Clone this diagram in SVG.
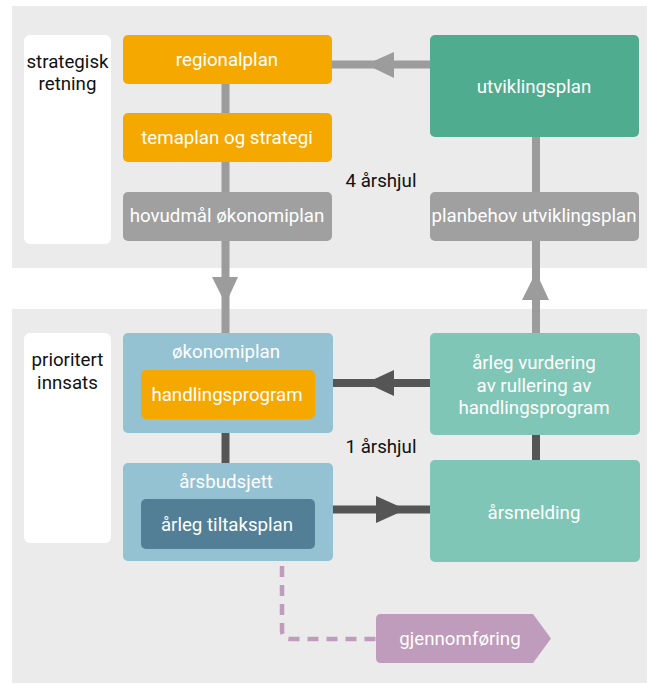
<svg xmlns="http://www.w3.org/2000/svg" width="651" height="685" viewBox="0 0 651 685">
<defs>
<style>
text{font-family:Roboto,"Liberation Sans",sans-serif;font-size:18.7px;text-anchor:middle}
.w{fill:#ffffff}
.k{fill:#111111}
.bg{fill:#ebebeb}
</style>
</defs>
<rect class="bg" x="12" y="6" width="635" height="262"/>
<rect class="bg" x="12" y="309" width="635" height="374"/>
<g id="connectors">
<line x1="225.5" y1="84" x2="225.5" y2="333" stroke="#9c9c9c" stroke-width="8"/>
<polygon points="212,277 238,277 225.5,304" fill="#9c9c9c"/>
<line x1="536" y1="137" x2="536" y2="333" stroke="#9c9c9c" stroke-width="8"/>
<polygon points="522,300 549,300 536,272" fill="#9c9c9c"/>
<line x1="332" y1="64.5" x2="430" y2="64.5" stroke="#9c9c9c" stroke-width="8"/>
<polygon points="366,64.5 394,52 394,78" fill="#9c9c9c"/>
<line x1="225.5" y1="433" x2="225.5" y2="463" stroke="#555555" stroke-width="8"/>
<line x1="536" y1="435" x2="536" y2="460" stroke="#555555" stroke-width="8"/>
<line x1="333" y1="383" x2="430" y2="383" stroke="#555555" stroke-width="8"/>
<polygon points="366,383 394,370 394,396" fill="#555555"/>
<line x1="333" y1="509.5" x2="430" y2="509.5" stroke="#555555" stroke-width="8"/>
<polygon points="406,509.5 376,496 376,523" fill="#555555"/>
<path d="M282,566 V630 Q282,639 291,639 H376" fill="none" stroke="#bf9bbc" stroke-width="4.5" stroke-dasharray="11,8"/>
</g>
<g id="strategisk">
<rect x="24" y="35" width="87" height="209" rx="6" fill="#ffffff"/>
<text class="k" x="67.5" y="68">strategisk</text>
<text class="k" x="67.5" y="90">retning</text>
</g>
<g id="regionalplan">
<rect x="123" y="35" width="209" height="49" rx="5" fill="#f5a800"/>
<text class="w" x="227" y="66">regionalplan</text>
</g>
<g id="temaplan">
<rect x="123" y="113" width="209" height="49" rx="5" fill="#f5a800"/>
<text class="w" x="227" y="144">temaplan og strategi</text>
</g>
<g id="hovudmal">
<rect x="123" y="192" width="209" height="49" rx="5" fill="#a0a0a0"/>
<text class="w" x="227" y="222">hovudmål økonomiplan</text>
</g>
<g id="utviklingsplan">
<rect x="430" y="35" width="209" height="102" rx="5" fill="#4fac8f"/>
<text class="w" x="534" y="93">utviklingsplan</text>
</g>
<g id="planbehov">
<rect x="430" y="192" width="209" height="49" rx="5" fill="#a0a0a0"/>
<text class="w" x="534" y="222">planbehov utviklingsplan</text>
</g>
<g id="label4">
<text class="k" x="381" y="187">4 årshjul</text>
</g>
<g id="prioritert">
<rect x="24" y="333" width="87" height="210" rx="6" fill="#ffffff"/>
<text class="k" x="67.5" y="366">prioritert</text>
<text class="k" x="67.5" y="389">innsats</text>
</g>
<g id="okonomiplan">
<rect x="123" y="333" width="210" height="100" rx="5" fill="#94c2d3"/>
<text class="w" x="226" y="358">økonomiplan</text>
</g>
<g id="handlingsprogram">
<rect x="141" y="370" width="174" height="49" rx="5" fill="#f5a800"/>
<text class="w" x="227" y="401">handlingsprogram</text>
</g>
<g id="arsbudsjett">
<rect x="123" y="463" width="210" height="98" rx="5" fill="#94c2d3"/>
<text class="w" x="226" y="488">årsbudsjett</text>
</g>
<g id="tiltaksplan">
<rect x="141" y="499" width="174" height="50" rx="5" fill="#527f96"/>
<text class="w" x="227" y="531">årleg tiltaksplan</text>
</g>
<g id="vurdering">
<rect x="430" y="333" width="210" height="102" rx="5" fill="#7fc6b6"/>
<text class="w" x="534" y="369">årleg vurdering</text>
<text class="w" x="534" y="392">av rullering av</text>
<text class="w" x="534" y="414">handlingsprogram</text>
</g>
<g id="arsmelding">
<rect x="430" y="460" width="210" height="102" rx="5" fill="#7fc6b6"/>
<text class="w" x="534" y="519">årsmelding</text>
</g>
<g id="label1">
<text class="k" x="381" y="453">1 årshjul</text>
</g>
<g id="gjennomforing">
<path d="M381,614 H533 L551,638.5 L533,663 H381 Q376,663 376,658 V619 Q376,614 381,614 Z" fill="#bf9bbc"/>
<text class="w" x="460" y="645">gjennomføring</text>
</g>
</svg>
